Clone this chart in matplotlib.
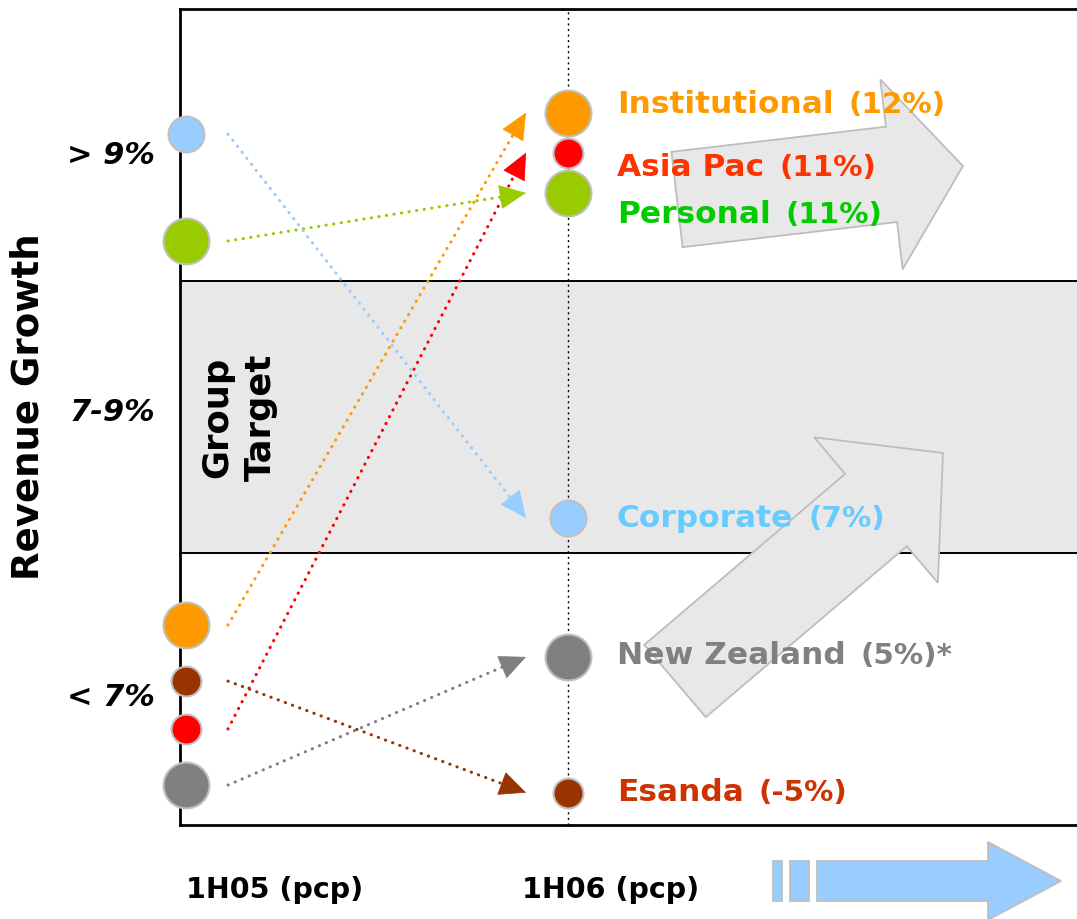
import numpy as np
import matplotlib
matplotlib.use("Agg")
import matplotlib.pyplot as plt
from matplotlib.patches import FancyArrow, Rectangle
from matplotlib.transforms import Affine2D

# ---------------------------------------------------------------- data --
segments = ["Institutional", "Asia Pac", "Personal", "Corporate", "New Zealand", "Esanda"]
growth_1h06 = [12, 11, 11, 7, 5, -5]          # revenue growth, %
footnote = ["", "", "", "", "*", ""]
# position on the banded growth scale: 0-1 "< 7%", 1-2 "7-9%", 2-3 "> 9%"
pos_1h05 = [0.735, 0.353, 2.147, 2.540, 0.147, 0.529]
pos_1h06 = [2.619, 2.472, 2.324, 1.129, 0.618, 0.119]
periods = ["1H05 (pcp)", "1H06 (pcp)"]
bands = ["< 7%", "7-9%", "> 9%"]
target_band = (1, 2)

# ------------------------------------------------------------- styling --
dot_colors = ["#FF9900", "#FF0000", "#99CC00", "#99CCFF", "#808080", "#993300"]
text_colors = ["#FF9900", "#FF3300", "#00CC00", "#66CCFF", "#808080", "#CC3300"]
dot_diam_px = [48, 32, 48, 38, 48, 32]
label_drop_px = [0, 23, 30, 9, 7, 8]          # label baseline below its dot
band_label_y = [0.478, 1.529, 2.474]
period_label_x = [0.0, 0.88]

W, H, DPI = 1077, 919, 100
PT = 72 / DPI                                  # points per pixel

fig = plt.figure(figsize=(W / DPI, H / DPI), dpi=DPI)
fig.patch.set_facecolor("white")
ax = fig.add_axes([180 / W, 1 - 825 / H, 1 - 180 / W, (825 - 9) / H])
ax.set_facecolor("white")

X_UNIT = 382.0                                 # pixels between the two periods
ax.set_xlim((180 - 186) / X_UNIT, (W - 186) / X_UNIT)
ax.set_ylim(0, 3)

# pixel space with the origin at the top-left corner (for decorative shapes)
px = Affine2D().scale(1 / DPI, -1 / DPI).translate(0, H / DPI) + fig.dpi_scale_trans

# group target band
ax.axhspan(*target_band, color="#E8E8E8", zorder=0.5, lw=0)
for yb in target_band:
    ax.axhline(yb, color="black", lw=1.4, zorder=1.5)

# period guide line
ax.axvline(1, color="black", lw=1.0, ls=(0, (1.5, 2.5)), zorder=1)

# large grey trend arrows
trend_arrows = [
    ((677, 199.5), (963, 166), 96, 191, 72),
    ((675, 681), (943, 453), 95, 191, 88),
]
for (tx, ty), (hx, hy), w, hw, hl in trend_arrows:
    ax.add_patch(FancyArrow(tx, ty, hx - tx, hy - ty, width=w, head_width=hw,
                            head_length=hl, length_includes_head=True,
                            transform=px, facecolor="#E8E8E8", edgecolor="#BDBDBD",
                            lw=1.3, zorder=2.7, clip_on=False))

# movement arrows between periods: dotted shaft plus a solid head
gap = 42 / X_UNIT
head_px = 25
for y0, y1, c in zip(pos_1h05, pos_1h06, dot_colors):
    start, end = (gap, y0), (1 - gap, y1)
    p0, p1 = ax.transData.transform([start, end])
    u = (p1 - p0) / np.hypot(*(p1 - p0))
    ax.annotate("", xy=end, xytext=start,
                arrowprops=dict(arrowstyle="-", color=c, lw=2.2,
                                linestyle=(0, (0.1, 2.4)), capstyle="round",
                                shrinkA=0, shrinkB=head_px * PT * 0.85),
                zorder=3)
    ax.annotate("", xy=end, xytext=(-u[0] * head_px * PT, -u[1] * head_px * PT),
                textcoords="offset points",
                arrowprops=dict(arrowstyle="-|>,head_length=1.0,head_width=0.46",
                                mutation_scale=head_px * PT, color=c, lw=0.5,
                                shrinkA=0, shrinkB=0),
                zorder=3)

# segment dots
for y0, y1, c, d in zip(pos_1h05, pos_1h06, dot_colors, dot_diam_px):
    for xx, yy in ((0, y0), (1, y1)):
        ax.plot([xx], [yy], marker="o", ms=d * PT - 1.5, mfc=c, mec="#C0C0C0",
                mew=1.5, ls="none", zorder=4, clip_on=False)

# segment labels
for i, name in enumerate(segments):
    t = ax.annotate(name, xy=(1, pos_1h06[i]),
                    xytext=(49 * PT, -label_drop_px[i] * PT), textcoords="offset points",
                    ha="left", va="baseline", fontsize=22.5, fontweight="bold",
                    color=text_colors[i], zorder=5, family="DejaVu Sans")
    ax.annotate(f"({growth_1h06[i]}%){footnote[i]}", xy=(1, 0), xycoords=t,
                xytext=(10.8, 0), textcoords="offset points",
                ha="left", va="bottom", fontsize=21.2, fontweight="bold",
                color=text_colors[i], zorder=5, family="DejaVu Sans")

# group target caption
ax.text(0.138, sum(target_band) / 2, "Group\nTarget", rotation=90, ha="center",
        va="center", multialignment="center", linespacing=1.35, fontsize=25.5,
        fontweight="bold", color="black", family="DejaVu Sans", zorder=5)

# band labels on the y axis
ax.set_yticks(band_label_y, bands)
for lab in ax.get_yticklabels():
    lab.set_fontsize(22)
    lab.set_fontweight("bold")
    lab.set_fontstyle("italic")
    lab.set_family("DejaVu Sans")
ax.tick_params(axis="y", length=0, pad=18)
ax.set_xticks([])

# period labels under the axis
for xp, lab in zip(period_label_x, periods):
    ax.text(xp, -(898 - 825) / 816, lab, transform=ax.get_xaxis_transform(),
            ha="left", va="baseline", fontsize=20.5, fontweight="bold",
            family="DejaVu Sans", color="black")

# time-direction arrow
blue_face, blue_edge = "#99CCFF", "#BFBFBF"
for x_left, w in ((773, 9), (790, 19)):
    fig.add_artist(Rectangle((x_left, 861), w, 40, transform=px,
                             facecolor=blue_face, edgecolor=blue_edge, lw=1.3))
fig.add_artist(FancyArrow(817, 881, 244, 0, width=40, head_width=78, head_length=73,
                          length_includes_head=True, transform=px,
                          facecolor=blue_face, edgecolor=blue_edge, lw=1.3))

# axis title
fig.text(28 / W, 1 - 406.5 / H, "Revenue Growth", rotation=90, ha="center",
         va="center", fontsize=26.7, fontweight="bold", family="DejaVu Sans")

for side in ("left", "top", "bottom"):
    ax.spines[side].set_linewidth(2.0)
    ax.spines[side].set_color("black")
ax.spines["right"].set_visible(False)

fig.savefig("out.png", dpi=DPI, facecolor="white")
